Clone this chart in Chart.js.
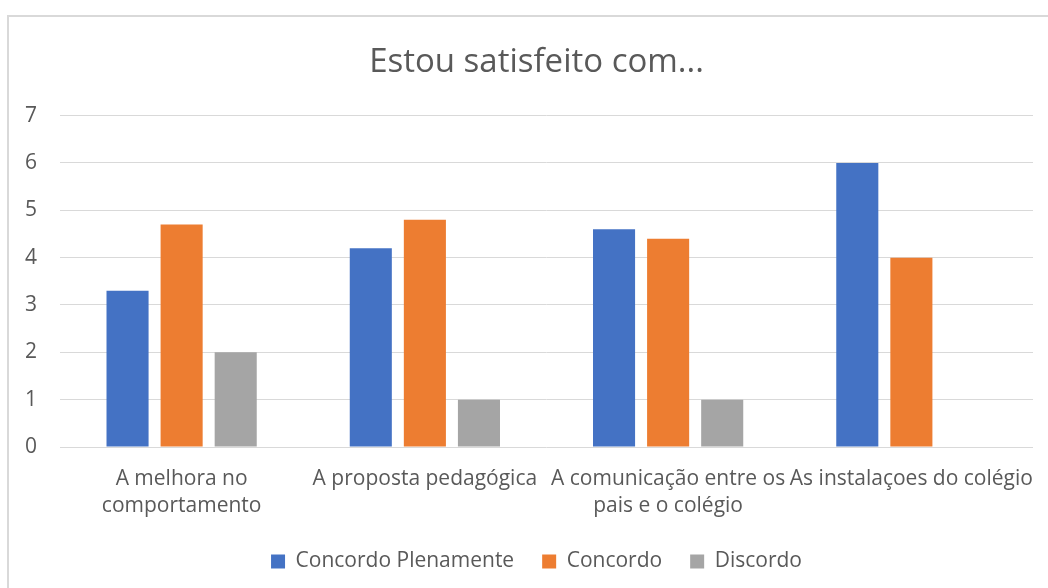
<!DOCTYPE html>
<html>
<head>
<meta charset="utf-8">
<script src="https://cdn.jsdelivr.net/npm/chart.js@4/dist/chart.umd.min.js"></script>
<style>
html,body{margin:0;padding:0;background:#fff;}
#wrap{width:1048px;height:588px;position:relative;}
</style>
</head>
<body>
<div id="wrap"><canvas id="c" width="1048" height="588"></canvas></div>
<script>
const categories = [["A melhora no","comportamento"],"A proposta pedagógica",["A comunicação entre os","pais e o colégio"],"As instalaçoes do colégio"];
const seriesNames = ["Concordo Plenamente","Concordo","Discordo"];
const concordoPlenamente = [3.3, 4.2, 4.6, 6];
const concordo = [4.7, 4.8, 4.4, 4];
const discordo = [2, 1, 1, 0];
const yTicks = ["0","1","2","3","4","5","6","7"];
const chartTitle = "Estou satisfeito com...";

const FONT = "'Open Sans'";
const TXT = "#595959";

const borderPlugin = {
  id:'outerBorder',
  beforeDraw(chart){
    const ctx = chart.ctx;
    ctx.save();
    ctx.fillStyle = '#fff';
    ctx.fillRect(0,0,chart.width,chart.height);
    ctx.strokeStyle = '#d9d9d9';
    ctx.lineWidth = 2;
    ctx.strokeRect(8, 16, 1100, 1100);
    ctx.restore();
  }
};

new Chart(document.getElementById('c'), {
  type:'bar',
  data:{
    labels: categories,
    datasets:[
      {label: seriesNames[0], data: concordoPlenamente, backgroundColor:'#4472C4'},
      {label: seriesNames[1], data: concordo, backgroundColor:'#ED7D31'},
      {label: seriesNames[2], data: discordo, backgroundColor:'#A5A5A5'}
    ]
  },
  options:{
    responsive:false,
    animation:false,
    devicePixelRatio:1,
    layout:{padding:{left:40,right:15,top:0,bottom:6}},
    datasets:{bar:{categoryPercentage:0.667,barPercentage:0.778}},
    plugins:{
      title:{display:true,text:chartTitle,color:TXT,font:{family:FONT,size:33,weight:'normal'},padding:{top:43,bottom:33}},
      legend:{position:'bottom',labels:{color:TXT,font:{family:FONT,size:21},boxWidth:14,boxHeight:14,padding:28}},
      tooltip:{enabled:false}
    },
    scales:{
      x:{
        grid:{display:false},
        border:{display:false},
        ticks:{color:TXT,font:{family:FONT,size:21,lineHeight:1.286},padding:11,maxRotation:0,autoSkip:false},
        afterFit(s){s.height=76;}
      },
      y:{
        min:0,max:7,
        grid:{color:'#d9d9d9',lineWidth:1,drawTicks:false},
        border:{display:false},
        ticks:{stepSize:1,color:TXT,font:{family:FONT,size:21},mirror:true,padding:-35,callback:(v,i)=>yTicks[i]},
        afterFit(s){s.width=20;}
      }
    }
  },
  plugins:[borderPlugin]
});
</script>
</body>
</html>
